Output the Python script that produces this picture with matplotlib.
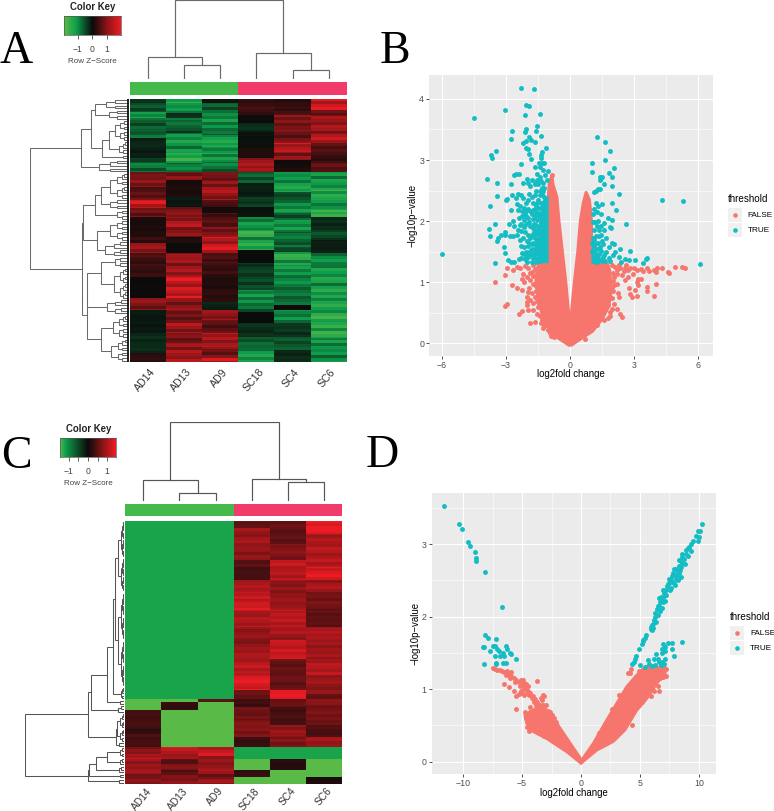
import numpy as np
import matplotlib
matplotlib.use("Agg")
import matplotlib.pyplot as plt
from matplotlib.colors import LinearSegmentedColormap

plt.rcParams['font.family'] = ['Liberation Sans', 'DejaVu Sans']

W, H = 774, 811

samples = ["AD14", "AD13", "AD9", "SC18", "SC4", "SC6"]

# heatmap A: z-score of each run and the row where the run ends (263 rows)
a_vals = [
    [-0.3, -0.6, -1.2, -0.7, -0.8, -0.2, -0.15, -0.5, -0.9, 0.8, 1.1, 0.5, 0.9, 1.7, 0.9, 0.15, 0.2, 0.4, 1.2, 0.5, 0.4, 0.05, 1.1, -0.1, -0.25, 0.3],
    [-1.6, -1.1, -0.3, -0.8, -0.5, -1.2, -1.6, -0.9, 1.1, 0.15, 0.2, -0.1, 1.0, 1.4, 1.1, 0.2, 0.05, 1.3, 1.3, 1.8, 1.1, 0.9, 1.4, 0.9, 1.3],
    [-0.1, -0.7, -1.1, -0.8, -1.3, -1.0, -1.3, -0.9, 0.9, 1.1, 1.3, 0.6, 0.1, 0.6, 1.0, 1.7, 0.6, 0.4, 0.2, 0.3, -0.2, 1.2, 0.7, 1.4, 1.0, 1.6],
    [0.4, 0.5, 0.05, -0.3, -0.05, 0.2, 1.3, -0.7, -0.15, -0.4, -0.05, -1.2, -1.6, -1.4, 0.0, -0.4, -0.5, -1.1, -0.8, 0.0, -0.3, -0.7, -1.2],
    [0.3, 0.5, 1.0, 0.9, 1.6, 1.1, 0.1, 0.3, -1.1, -1.3, -0.5, -1.1, -0.7, -1.2, -0.8, -0.5, -1.5, -1.1, -1.0, -0.8, 0.0, -1.0, -0.35, -0.6, -0.25],
    [1.7, 1.0, 1.3, 1.5, 0.7, 0.45, 0.7, -1.2, -1.5, -1.1, -1.6, -0.25, -0.5, -0.15, -1.0, -1.3, -1.4, -1.55, -1.6, -1.1],
]
a_ends = [
    [4, 13, 19, 34, 39, 51, 59, 64, 73, 78, 88, 93, 101, 109, 118, 128, 138, 144, 154, 166, 178, 199, 211, 234, 254, 263],
    [4, 14, 19, 29, 34, 54, 64, 73, 81, 88, 98, 108, 118, 128, 138, 144, 154, 168, 178, 199, 211, 224, 234, 244, 263],
    [4, 14, 29, 36, 48, 54, 63, 73, 81, 88, 101, 108, 114, 128, 138, 154, 164, 178, 188, 203, 211, 221, 234, 248, 259, 263],
    [8, 16, 24, 33, 48, 59, 73, 84, 98, 108, 118, 131, 138, 151, 164, 178, 191, 204, 213, 224, 238, 249, 263],
    [8, 16, 29, 44, 53, 61, 69, 73, 84, 93, 101, 114, 121, 133, 148, 153, 166, 178, 191, 206, 211, 224, 238, 251, 263],
    [11, 16, 34, 44, 53, 64, 73, 91, 101, 111, 118, 131, 141, 154, 166, 201, 211, 234, 239, 263],
]
# fine banding inside the runs, one factor per 3 rows
a_shade = [1.0, 0.8, 1.05, 0.6, 0.95, 0.75, 1.1, 0.85, 0.55, 1.0, 0.9, 0.7, 1.05, 0.65, 0.95, 1.1, 0.8, 0.6, 1.0, 0.85,
           0.7, 1.05, 0.95, 0.55, 0.9, 1.1, 0.75, 1.0, 0.65, 0.9, 1.05, 0.8, 0.6, 0.95, 1.1, 0.7, 0.85, 1.0, 0.6, 1.05,
           0.9, 0.75, 1.1, 0.65, 0.95, 0.85, 1.0, 0.55, 0.9, 1.05, 0.7, 0.95, 1.1, 0.8, 0.6, 1.0, 0.85, 0.7, 1.05, 0.95,
           0.6, 0.9, 1.1, 0.75, 1.0, 0.65, 0.9, 1.05, 0.8, 0.55, 0.95, 1.1, 0.7, 0.85, 1.0, 0.6, 1.05, 0.9, 0.75, 1.1,
           0.65, 0.95, 0.85, 1.0, 0.7, 0.9, 1.05, 0.8]
c_shade = [1.0, 0.92, 1.05, 0.85, 1.0, 0.95, 1.08, 0.88, 0.8, 1.0, 0.95, 0.85, 1.05, 0.9, 1.0, 1.08, 0.9, 0.82, 1.0, 0.95,
           0.88, 1.05, 1.0, 0.8, 0.95, 1.08, 0.88, 1.0, 0.85, 0.95, 1.05, 0.9, 0.82, 1.0, 1.08, 0.88, 0.92, 1.0, 0.82, 1.05,
           0.95, 0.88, 1.08, 0.85, 1.0, 0.92, 1.0, 0.8, 0.95, 1.05, 0.88, 1.0, 1.08, 0.9, 0.82, 1.0, 0.92, 0.88, 1.05, 1.0,
           0.82, 0.95, 1.08, 0.88, 1.0, 0.85, 0.95, 1.05, 0.9, 0.8, 1.0, 1.08, 0.88, 0.92, 1.0, 0.82, 1.05, 0.95, 0.88, 1.08,
           0.85, 1.0, 0.92, 1.0, 0.88, 0.95, 1.05, 0.9]

# heatmap C, same layout
c_low = -1.2
c_lime = -1.43
c_vals = [
    [c_low, c_lime, 0.4, 0.25, 0.4, 0.8, 1.1, 0.9, 1.0, 0.7, 0.8],
    [c_low, c_lime, 0.3, c_lime, 1.3, 0.9, 0.5, 0.8, 0.5, 0.8],
    [c_low, 0.5, c_lime, 1.25, 0.9, 1.0, 0.7, 0.9],
    [0.6, 0.95, 0.85, 0.5, 0.4, 1.05, 1.2, 1.3, 1.1, 0.85, 1.0, 1.15, 1.45, 0.6, 0.35, 0.65, 0.8, 0.3, c_low, c_lime, 0.3, c_lime],
    [0.6, 0.55, 0.8, 1.15, 0.85, 0.95, 1.15, 1.0, 1.25, 0.6, 1.6, 0.6, 0.4, 0.9, 0.75, c_low, 0.2, c_lime],
    [1.5, 1.1, 1.1, 1.4, 1.0, 0.7, 0.55, 1.05, 0.95, 1.15, 0.9, 0.6, 0.8, 0.7, 0.45, 0.95, c_low, c_lime, c_lime, 0.15],
]
c_ends = [
    [178, 189, 208, 213, 226, 233, 238, 248, 253, 258, 263],
    [178, 181, 189, 226, 233, 238, 243, 249, 254, 263],
    [178, 181, 226, 235, 248, 253, 258, 263],
    [7, 29, 39, 46, 59, 71, 79, 89, 106, 126, 138, 154, 169, 178, 186, 199, 216, 226, 238, 249, 256, 263],
    [7, 23, 39, 59, 76, 89, 106, 119, 138, 169, 178, 186, 204, 216, 226, 238, 249, 263],
    [13, 36, 46, 59, 71, 88, 106, 119, 138, 154, 173, 178, 186, 204, 216, 226, 238, 249, 256, 263],
]

# row dendrograms: (height, child, child), [first row, last row, height] is a tight leaf group
tree_a = (99,
          (48,
           (38, (34, [0, 3, 23], [4, 7, 20]),
            (27, (20, [8, 15, 14], [16, 20, 10]), [21, 22, 6])),
           [23, 27, 30]),
          (46.7,
           (45.7,
            (34.3, (27.7, [28, 37, 19], [38, 41, 19]), [42, 45, 12]),
            (32.3, [46, 53, 19], [54, 59, 24])),
           (41.7,
            (42, (27.7, [60, 63, 14], [64, 75, 15]), [76, 81, 22]),
            (27.7, [82, 90, 16], [91, 99, 18]))))
tree_c = (99,
          (36,
           (33,
            (17,
             (11, (9.6, [0, 26, 6], [27, 62, 6]), [63, 67, 3]),
             [68, 69, 4]),
            [70, 72, 6]),
           (8.6, [73, 83, 7], [84, 85, 5])),
          (36,
           (35,
            (28.6, (17, [86, 89, 4], [90, 92, 4]), [93, 95, 5]),
            [96, 97, 4]),
           [98, 99, 5]))

# column dendrograms, leaves are the column numbers
tree_top_a = (79, (22, 0, (14, 1, 2)), (26, 3, (9.5, 4, 5)))
tree_top_c = (78.5, (20.5, 0, (7.5, 1, 2)), (22, 3, (19, 4, 5)))

# panel B, mass of overlapping points as an outline, then the points that stand apart
b_mass_l_x = [-0.05, -0.6, -0.95, -1.25, -1.4, -1.5, -1.6, -1.55, -1.45, -1.05, -1.05, -1.0, -0.98, -0.85, -0.8, -0.62, -0.52, -0.36, -0.2, -0.04, 0.0]
b_mass_l_y = [-0.03, 0.1, 0.2, 0.4, 0.6, 0.8, 1.0, 1.2, 1.32, 1.34, 2.0, 2.5, 2.6, 2.75, 2.6, 2.4, 2.0, 1.5, 1.0, 0.38, 0.3]
b_mass_r_x = [0.0, 0.02, 0.2, 0.36, 0.48, 0.62, 0.75, 0.9, 0.95, 1.0, 1.0, 1.75, 1.85, 1.9, 1.9, 1.8, 1.5, 1.05, 0.6, 0.05]
b_mass_r_y = [0.3, 0.35, 1.0, 1.5, 2.0, 2.3, 2.47, 2.35, 2.2, 2.0, 1.33, 1.3, 1.2, 1.0, 0.8, 0.6, 0.4, 0.2, 0.1, -0.03]
b_false = [
    (-2.96, 1.23), (-3.04, 1.12), (-3.51, 1.0), (-2.73, 0.96), (-2.95, 0.65), (-3.04, 0.62), (-2.46, 0.9), (-2.26, 0.87),
    (-2.37, 0.49), (-2.26, 0.53), (-1.87, 0.33), (-1.25, 0.26), (-1.64, 0.35), (-1.36, 0.34), (-2.03, 0.63), (-1.87, 0.71),
    (-2.03, 0.76), (-1.79, 0.82), (-1.95, 0.84), (-1.64, 0.76), (-2.26, 1.05), (-2.03, 1.09), (-2.18, 1.14), (-2.49, 1.25),
    (-2.34, 1.23), (-2.1, 1.26), (-1.95, 1.23), (-1.71, 1.28), (-1.79, 1.17), (-1.56, 1.12), (-1.87, 1.04), (-1.71, 0.98),
    (-1.56, 0.93), (-1.95, 0.54), (-1.56, 0.49), (-1.48, 0.6), (-1.71, 0.54), (-2.65, 1.2), (-0.84, 2.75), (-0.93, 2.62),
    (-0.9, 2.56), (-0.93, 2.51), (-2.0, 0.68), (-1.9, 0.9), (-2.15, 1.0), (-1.75, 0.66), (-1.6, 0.85), (-1.5, 1.05),
    (-1.42, 0.45), (-1.55, 0.7), (-1.65, 0.95), (-1.75, 1.1), (-1.85, 1.15), (-1.65, 1.22), (-1.2, 0.3), (-1.05, 0.22),
    (-0.9, 0.12), (-0.75, 0.1), (-0.95, 0.17), (-1.3, 0.38), (-1.45, 0.65), (-1.52, 0.8),
    (2.1, 1.25), (2.34, 1.23), (2.57, 1.24), (2.81, 1.23), (3.12, 1.2), (3.43, 1.19), (2.96, 1.14), (3.19, 1.06),
    (3.58, 1.23), (3.9, 1.2), (4.05, 1.23), (4.29, 1.23), (4.6, 1.17), (4.91, 1.25), (5.22, 1.25), (5.38, 1.23),
    (2.42, 1.12), (2.73, 1.09), (2.57, 1.04), (3.12, 1.01), (3.3, 1.05), (2.77, 0.9), (3.04, 0.87), (3.19, 0.95),
    (3.58, 0.93), (3.58, 0.86), (4.02, 0.97), (2.81, 0.81), (2.91, 0.76), (3.15, 0.77), (3.9, 0.77), (2.23, 0.82),
    (2.28, 0.76), (2.06, 0.95), (2.21, 0.98), (1.95, 0.93), (2.03, 0.65), (2.21, 0.57), (2.31, 0.49), (2.42, 0.43),
    (1.87, 0.52), (1.95, 0.57), (1.4, 0.4), (1.09, 0.35), (0.7, 0.08), (1.79, 0.63), (1.71, 0.71), (2.03, 1.09),
    (2.18, 1.14), (2.2, 1.2), (2.5, 1.18), (2.7, 1.2), (3.0, 1.23), (3.3, 1.22), (3.7, 1.18), (1.95, 1.28), (2.0, 1.16),
    (4.62, 1.15), (4.0, 1.17), (1.98, 0.75), (1.85, 0.45), (1.6, 0.38), (1.75, 0.42), (1.55, 0.5), (1.25, 0.3), (1.0, 0.25),
    (2.0, 0.85), (2.0, 1.02), (2.3, 1.28), (2.6, 1.28),
]
b_band_x = [-1.05, -1.05, -1.3, -1.45, -1.5]
b_band_y = [1.33, 2.4, 2.3, 1.8, 1.33]
b_true = [
    (-5.97, 1.46), (-4.5, 3.68), (-2.29, 4.17), (-1.7, 4.16), (-3.05, 3.81), (-2.06, 3.9), (-1.92, 3.88), (-2.12, 3.74),
    (-1.39, 3.76), (-1.56, 3.56), (-2.73, 3.47), (-2.74, 3.34), (-2.07, 3.51), (-2.12, 3.45), (-1.59, 3.47), (-1.34, 3.39),
    (-1.9, 3.37), (-1.84, 3.32), (-2.18, 3.28), (-2.07, 3.31), (-1.64, 3.3), (-1.11, 3.19), (-2.07, 3.19), (-1.98, 3.18),
    (-3.44, 3.15), (-3.69, 3.08), (-3.66, 3.04), (-1.29, 3.13), (-1.36, 3.08), (-1.9, 3.1), (-1.82, 3.01), (-1.37, 3.04),
    (-2.29, 2.94), (-1.46, 2.95), (-1.32, 2.95), (-1.2, 2.95), (-1.64, 2.89), (-1.4, 2.88), (-1.04, 2.82), (-1.25, 2.83),
    (-2.62, 2.76), (-2.52, 2.77), (-2.41, 2.77), (-3.9, 2.69), (-1.53, 2.77), (-1.17, 2.75), (-2.03, 2.69), (-1.76, 2.68),
    (-1.95, 2.62), (-2.2, 2.63), (-3.4, 2.62), (-2.77, 2.6), (-1.1, 2.68), (-1.4, 2.72), (-1.64, 2.63), (-1.25, 2.62),
    (-1.62, 2.6), (-1.85, 2.58), (-1.3, 2.55), (-2.45, 2.45), (-2.7, 2.42), (-2.95, 2.36), (-3.0, 2.34), (-2.55, 2.38),
    (-2.3, 2.42), (-2.2, 2.38), (-1.95, 2.35), (-2.05, 2.3), (-3.72, 2.24), (-3.4, 2.41), (-2.35, 2.25), (-2.15, 2.22),
    (-1.6, 2.5), (-1.65, 2.42), (-1.55, 2.3), (-1.75, 2.3), (-1.4, 2.42), (-1.25, 2.5), (-1.2, 2.4), (-1.5, 2.35),
    (-2.5, 2.28), (-2.75, 2.18), (-2.45, 2.18), (-2.25, 2.16), (-2.1, 2.13), (-1.95, 2.2), (-1.8, 2.12), (-1.65, 2.2),
    (-1.5, 2.14), (-2.25, 2.08), (-2.15, 2.02), (-2.4, 2.05), (-2.65, 2.0), (-2.85, 1.95), (-1.95, 2.05), (-1.75, 2.03),
    (-1.55, 2.02), (-1.45, 2.08), (-3.5, 1.96), (-2.6, 1.92), (-2.35, 1.93), (-2.05, 1.95), (-1.85, 1.92), (-1.6, 1.93),
    (-1.45, 1.9), (-3.78, 1.87), (-3.73, 1.76), (-3.25, 1.78), (-3.05, 1.82), (-3.02, 1.78), (-2.45, 1.85), (-2.3, 1.84),
    (-2.5, 1.78), (-2.65, 1.76), (-2.8, 1.75), (-2.1, 1.82), (-1.95, 1.78), (-1.7, 1.82), (-1.55, 1.8), (-3.35, 1.72),
    (-3.4, 1.67), (-2.35, 1.7), (-2.2, 1.72), (-2.0, 1.68), (-1.85, 1.72), (-1.65, 1.72), (-1.5, 1.68), (-3.08, 1.58),
    (-3.05, 1.48), (-2.3, 1.6), (-2.15, 1.58), (-1.95, 1.6), (-1.8, 1.62), (-1.6, 1.6), (-1.45, 1.58), (-2.25, 1.48),
    (-2.05, 1.5), (-1.85, 1.52), (-1.65, 1.5), (-1.5, 1.48), (-2.9, 1.36), (-2.75, 1.33), (-2.6, 1.34), (-2.4, 1.38),
    (-2.3, 1.4), (-2.1, 1.38), (-1.95, 1.42), (-1.75, 1.4), (-1.55, 1.38), (-3.52, 1.32), (-2.0, 1.33), (-1.8, 1.34),
    (-1.6, 1.33), (-1.4, 1.35), (-1.9, 1.45), (-1.7, 1.44), (-1.55, 1.7), (-1.45, 2.22), (-1.38, 2.3),
    (-1.7, 1.95), (-1.9, 1.98), (-1.65, 2.08), (-1.85, 2.16), (-2.05, 2.08), (-1.6, 1.85), (-1.75, 1.88), (-1.8, 1.78),
    (-1.62, 1.78), (-1.58, 1.65), (-1.72, 1.65), (-1.9, 1.65), (-1.78, 1.55), (-1.6, 1.55), (-1.68, 1.42), (-1.82, 1.46),
    (-2.0, 1.42), (-2.12, 1.44), (-1.58, 2.15), (-1.72, 2.18), (-1.6, 2.25), (-1.42, 2.5), (-1.3, 2.45), (-1.48, 2.6),
    (-1.55, 2.68), (-1.2, 2.55), (-1.35, 2.65), (-1.8, 2.4), (-1.9, 2.45), (-2.0, 2.18), (-2.3, 1.95), (-2.15, 1.9),
    (6.07, 1.3), (5.27, 2.33), (4.3, 2.34), (1.26, 3.38), (1.63, 3.29), (1.88, 3.15), (1.63, 3.0), (1.03, 2.95),
    (2.06, 2.87), (1.02, 2.81), (1.81, 2.78), (1.94, 2.73), (1.42, 2.73), (1.38, 2.68), (1.48, 2.72), (1.6, 2.6),
    (1.96, 2.57), (1.2, 2.5), (1.3, 2.52), (1.4, 2.53), (1.1, 2.47), (2.29, 2.45), (1.95, 2.3), (1.3, 2.25), (1.5, 2.28),
    (1.2, 2.3), (2.15, 2.19), (1.1, 2.2), (1.25, 2.15), (1.05, 2.12), (1.45, 2.12), (1.75, 2.05), (1.3, 2.0), (1.15, 1.98),
    (1.05, 1.98), (1.6, 1.97), (1.95, 2.02), (2.6, 1.96), (1.45, 1.92), (1.25, 1.92), (1.85, 1.9), (1.93, 1.88), (1.1, 1.85),
    (1.35, 1.85), (1.6, 1.85), (1.2, 1.75), (1.45, 1.78), (1.05, 1.72), (1.7, 1.72), (1.95, 1.65), (2.05, 1.63), (1.3, 1.65),
    (1.15, 1.62), (1.55, 1.62), (1.8, 1.58), (1.05, 1.55), (1.25, 1.55), (2.1, 1.5), (2.35, 1.55), (2.8, 1.52), (1.45, 1.52),
    (1.7, 1.5), (2.0, 1.45), (1.15, 1.48), (1.35, 1.46), (1.05, 1.42), (1.55, 1.42), (1.8, 1.4), (2.3, 1.42), (2.55, 1.38),
    (1.2, 1.38), (1.4, 1.36), (1.05, 1.35), (1.65, 1.35), (1.85, 1.35), (2.4, 1.33), (3.05, 1.37), (3.55, 1.38), (3.4, 1.32),
    (3.6, 1.39), (2.75, 1.36), (1.1, 1.6), (1.2, 1.33), (1.1, 1.7), (1.25, 1.45), (1.3, 1.4), (1.12, 1.42), (1.02, 1.5),
    (1.02, 1.65), (1.4, 1.58), (1.5, 1.68), (1.35, 1.75), (1.15, 1.35), (1.28, 1.34), (1.5, 1.35), (1.6, 1.45),
]

# panel D
d_mass_l_x = [0.0, -1.22, -2.91, -4.33, -4.6, -4.75, -3.95, -3.4, -2.63, -1.78, -0.08]
d_mass_l_y = [-0.02, 0.14, 0.32, 0.44, 0.53, 0.64, 0.72, 0.78, 0.67, 0.46, 0.05]
d_mass_r_x = [0.0, 1.33, 2.74, 3.73, 4.72, 5.57, 6.42, 7.13, 7.2, 5.57, 4.72, 3.88, 3.03, 2.18, 1.05, 0.06]
d_mass_r_y = [-0.02, 0.16, 0.28, 0.44, 0.71, 0.87, 1.08, 1.22, 1.29, 1.31, 1.19, 1.03, 0.8, 0.57, 0.25, 0.02]
d_false = [
    (-7.5, 1.29), (-7.3, 1.28), (-7.1, 1.27), (-6.9, 1.26), (-6.7, 1.25), (-6.5, 1.24), (-6.3, 1.22), (-6.1, 1.2), (-5.9, 1.18),
    (-5.7, 1.16), (-5.5, 1.13), (-5.3, 1.1), (-5.1, 1.08), (-4.9, 1.04), (-4.7, 1.02), (-4.5, 0.98), (-4.3, 0.94), (-4.1, 0.91),
    (-3.9, 0.87), (-3.7, 0.82), (-3.5, 0.78), (-3.3, 0.74), (-3.1, 0.7), (-6.4, 1.2), (-6.0, 1.15), (-5.6, 1.1), (-5.2, 1.05),
    (-4.8, 1.0), (-4.4, 0.92), (-4.0, 0.85), (-3.6, 0.76), (-6.3, 1.25), (-5.9, 1.24), (-5.1, 1.13), (-4.95, 1.12), (-4.8, 1.08),
    (-6.5, 1.07), (-6.1, 1.03), (-5.7, 0.98), (-5.55, 0.9), (-5.25, 0.93), (-5.55, 0.72), (-3.75, 1.11), (-3.25, 0.92), (-3.15, 0.9),
    (-3.3, 0.85), (-4.75, 0.68), (-4.6, 0.62), (-4.3, 0.76), (-4.0, 0.7), (-3.8, 0.78), (-3.2, 0.78), (-2.6, 0.68), (-2.45, 0.64),
    (-2.9, 0.63), (-4.7, 0.6), (-3.5, 0.68), (-5.0, 0.95), (-4.7, 1.07), (-4.5, 1.05), (-5.05, 0.98), (-4.85, 0.92), (-4.6, 0.94),
    (-4.2, 0.88), (-3.95, 0.82), (-3.75, 0.72), (-4.35, 0.68), (-4.15, 0.62), (-4.55, 0.48), (-4.4, 0.42), (-3.4, 0.88), (-3.0, 0.78),
    (-2.8, 0.7), (-2.3, 0.6), (-2.15, 0.55), (-3.6, 0.4), (-3.1, 0.36),
    (4.0, 1.22), (4.2, 1.28), (4.15, 1.22), (4.35, 1.1), (3.2, 0.92), (4.35, 0.5), (7.2, 1.18), (7.25, 1.28), (7.0, 1.3),
    (6.9, 1.22), (6.7, 1.15), (5.3, 1.28), (5.1, 1.25), (4.9, 1.25), (6.2, 1.3), (5.9, 1.3), (5.5, 0.92), (5.2, 0.82), (6.2, 0.98),
    (6.0, 1.0), (5.9, 0.9), (6.5, 1.05), (6.3, 1.1), (7.0, 1.17), (3.8, 0.62), (4.1, 0.68), (4.5, 0.75), (4.9, 0.78), (3.3, 0.58),
    (2.9, 0.42), (3.5, 0.92), (3.9, 1.0), (2.0, 0.52), (2.6, 0.72), (1.5, 0.4), (6.6, 0.98), (5.9, 1.26), (6.5, 1.28),
]
d_true = [
    (-11.6, 3.52), (-10.38, 3.27), (-10.1, 3.21), (-9.59, 3.03), (-9.39, 2.97), (-8.97, 2.89), (-8.94, 2.81), (-8.91, 2.77),
    (-8.15, 2.61), (-6.73, 2.13), (-8.18, 1.74), (-7.86, 1.71), (-7.21, 1.69), (-8.32, 1.58), (-8.25, 1.58), (-7.44, 1.6),
    (-7.3, 1.6), (-6.39, 1.59), (-6.31, 1.56), (-7.1, 1.55), (-6.99, 1.52), (-7.72, 1.52), (-6.62, 1.5), (-6.03, 1.5),
    (-5.91, 1.48), (-7.3, 1.46), (-6.87, 1.46), (-6.53, 1.46), (-5.54, 1.41), (-7.24, 1.36), (-7.19, 1.35), (-6.62, 1.36),
    (-6.36, 1.36), (-8.26, 1.35),
    (4.36, 1.35), (4.5, 1.38), (4.6, 1.42), (4.7, 1.45), (4.92, 1.55), (5.25, 1.66), (5.29, 1.68), (5.4, 1.7), (5.5, 1.74),
    (5.15, 1.62), (5.9, 1.83), (5.95, 1.86), (6.05, 1.82), (6.15, 1.84), (6.1, 1.9), (6.2, 1.96), (6.25, 2.0), (6.35, 1.93),
    (6.4, 2.04), (6.45, 2.1), (6.55, 2.02), (6.6, 2.15), (6.7, 2.2), (6.85, 2.22), (6.9, 2.12), (6.8, 2.27), (7.0, 2.27), (7.05, 2.33),
    (7.15, 2.3), (7.2, 2.36), (7.3, 2.42), (7.45, 2.46), (7.55, 2.36), (7.65, 2.4), (7.6, 2.5), (7.7, 2.56), (7.8, 2.6), (7.85, 2.46),
    (7.95, 2.44), (8.0, 2.58), (8.05, 2.52), (8.1, 2.65), (8.15, 2.56), (8.2, 2.62), (8.25, 2.5), (8.3, 2.7), (8.35, 2.6), (8.4, 2.64),
    (8.45, 2.76), (8.5, 2.68), (8.55, 2.82), (8.6, 2.74), (8.7, 2.8), (8.8, 2.72), (8.9, 2.92), (8.95, 2.86), (9.05, 2.83), (9.1, 2.94),
    (9.2, 2.96), (9.3, 2.9), (9.35, 3.0), (9.5, 3.04), (9.9, 3.04), (9.75, 3.11), (10.05, 3.1), (9.95, 3.18), (10.1, 3.18), (10.3, 3.27),
    (8.5, 2.55), (7.4, 2.45), (7.0, 2.2), (6.7, 2.08), (6.65, 2.25), (6.95, 2.36), (7.1, 2.22), (7.5, 2.52), (7.9, 2.66), (8.3, 2.78),
    (8.6, 2.86), (7.75, 2.48), (7.25, 2.3), (6.5, 2.14), (6.3, 2.05), (6.0, 1.88),
    (8.6, 1.65), (7.75, 1.63), (7.35, 1.63), (7.0, 1.62), (7.7, 1.55), (7.92, 1.45), (7.1, 1.58), (6.9, 1.55), (6.85, 1.5), (7.15, 1.52),
    (6.4, 1.48), (6.5, 1.42), (6.2, 1.42), (5.7, 1.4), (5.8, 1.35), (6.6, 1.38), (6.9, 1.38), (7.1, 1.42), (7.05, 1.35), (6.75, 1.33),
    (5.4, 1.31), (5.0, 1.33), (6.0, 1.32), (6.3, 1.33),
]


def pix_axes(left, top, right, bottom):
    return fig.add_axes([left / W, 1 - bottom / H, (right - left) / W, (bottom - top) / H])


def fan(ax, a, b, h, color, lw):
    if a >= b:
        return a + 0.5, 0
    m = (a + b) // 2
    y1, h1 = fan(ax, a, m, h * 0.62, color, lw)
    y2, h2 = fan(ax, m + 1, b, h * 0.62, color, lw)
    ax.plot([h1, h, h, h2], [y1, y1, y2, y2], color=color, lw=lw, solid_joinstyle='miter')
    return (y1 + y2) / 2, h


def row_tree(ax, node, color, lw):
    if isinstance(node, list):
        return fan(ax, node[0], node[1], node[2], color, lw)
    y1, h1 = row_tree(ax, node[1], color, lw)
    y2, h2 = row_tree(ax, node[2], color, lw)
    ax.plot([h1, node[0], node[0], h2], [y1, y1, y2, y2], color=color, lw=lw, solid_joinstyle='miter')
    return (y1 + y2) / 2, node[0]


def col_tree(ax, node, color, lw):
    if not isinstance(node, tuple):
        return node, 0
    x1, h1 = col_tree(ax, node[1], color, lw)
    x2, h2 = col_tree(ax, node[2], color, lw)
    ax.plot([x1, x1, x2, x2], [h1, node[0], node[0], h2], color=color, lw=lw, solid_joinstyle='miter')
    return (x1 + x2) / 2, node[0]


def heat_panel(vals, ends, shade, floor, box, cmap, vmin, vmax, tree, top_tree, strip, top_box, key_box, key_lim, key_ticks, line_color, row_left, fringe):
    left, top, right, bottom = box
    rows = np.column_stack([np.repeat(v, np.diff([0] + e)) for v, e in zip(vals, ends)])
    # the banding of each column starts somewhere else in the list
    bands = np.repeat(shade, 3)[:263]
    for j in range(6):
        f = np.roll(bands, j * 23)
        rows[:, j] = np.where(rows[:, j] > floor, rows[:, j] * f, rows[:, j])

    ax = pix_axes(left, top, right, bottom)
    ax.pcolormesh(np.arange(7), np.arange(264), rows, cmap=cmap, vmin=vmin, vmax=vmax, rasterized=True)
    ax.set_ylim(263, 0)
    ax.axis('off')

    # side colour strip
    ax = pix_axes(left, strip[0], right, strip[1])
    ax.barh(0, 3, left=0, height=1, color='#45BA4A')
    ax.barh(0, 3, left=3, height=1, color='#F03B6B')
    ax.set_xlim(0, 6)
    ax.set_ylim(-0.5, 0.5)
    ax.axis('off')

    # dendrograms
    ax = pix_axes(row_left, top, left - 1, bottom)
    row_tree(ax, tree, line_color, 0.75)
    if fringe:
        ax.plot([0.8, 0.8], [0, 100], color='#111111', lw=1.3)
    ax.set_xlim(left - 1 - row_left, 0)
    ax.set_ylim(100, 0)
    ax.axis('off')

    ax = pix_axes(left, top_box[0], right, top_box[1])
    col_tree(ax, top_tree, line_color, 0.85)
    ax.set_xlim(-0.5, 5.5)
    ax.set_ylim(0, top_box[1] - top_box[0])
    ax.axis('off')

    # colour key
    ax = pix_axes(*key_box)
    ax.imshow(np.linspace(key_lim[0], key_lim[1], 200)[None, :], aspect='auto', cmap=cmap,
              vmin=key_lim[0], vmax=key_lim[1], extent=[key_lim[0], key_lim[1], 0, 1])
    ax.set_yticks([])
    ax.set_xticks(key_ticks)
    ax.set_xticklabels([str(t).replace('-', '\u2212') if t == int(t) else '' for t in key_ticks], fontsize=6.2, color='#444444')
    ax.tick_params(axis='x', length=3, width=0.6, color='#444444', pad=4.5)
    for s in ax.spines.values():
        s.set_linewidth(0.5)
        s.set_color('#555555')
    cx = (key_box[0] + key_box[2]) / 2
    page.text(cx, key_box[1] - 8.5, 'Color Key', ha='center', va='center', fontsize=6.9, fontweight='bold', color='#222222')
    page.text(cx, key_box[3] + 26.5, 'Row Z\u2212Score', ha='center', va='center', fontsize=5.8, color='#444444')


def volcano(box, xlim, ylim, xticks, xminor, yticks, yminor, masses, false_pts, true_pts, band, legend_x, legend_y, xlabel_y, ylabel_x):
    ax = pix_axes(*box)
    ax.set_facecolor('#EBEBEB')
    ax.set_axisbelow(True)
    ax.set_xticks(xticks)
    ax.set_yticks(yticks)
    ax.set_xticks(xminor, minor=True)
    ax.set_yticks(yminor, minor=True)
    ax.set_xticklabels([str(t).replace('-', '\u2212') for t in xticks])
    ax.grid(which='major', color='white', lw=0.8)
    ax.grid(which='minor', color='white', lw=0.4)
    ax.tick_params(which='major', length=2.2, width=0.6, color='#333333', labelcolor='#4D4D4D', labelsize=6.3, pad=1.5)
    ax.tick_params(which='minor', length=0)
    for s in ax.spines.values():
        s.set_visible(False)
    for mx, my in masses:
        ax.fill(mx, my, color='#F6766D', lw=2.2, joinstyle='round', zorder=2)
    fx, fy = zip(*false_pts)
    ax.scatter(fx, fy, s=12.5, color='#F6766D', linewidths=0, zorder=2)
    if band is not None:
        ax.fill(band[0], band[1], color='#14BDC4', lw=1.5, zorder=3)
    tx, ty = zip(*true_pts)
    ax.scatter(tx, ty, s=12.5, color='#14BDC4', linewidths=0, zorder=3)
    ax.set_xlim(*xlim)
    ax.set_ylim(*ylim)

    page.text((box[0] + box[2]) / 2, xlabel_y, 'log2fold change', ha='center', va='center', fontsize=6.9, color='black')
    page.text(ylabel_x, (box[1] + box[3]) / 2, '\u2212log10p\u2212value', ha='center', va='center', rotation=90, fontsize=6.9, color='black')

    page.text(legend_x, legend_y, 'threshold', ha='left', va='center', fontsize=7.1, color='black')
    for i, (lab, col) in enumerate(zip(['FALSE', 'TRUE'], ['#F6766D', '#14BDC4'])):
        yk = legend_y + 9.5 + 15 * i
        page.fill([legend_x, legend_x + 14, legend_x + 14, legend_x], [yk, yk, yk + 14, yk + 14], color='#F0F0F0', lw=0)
        page.scatter([legend_x + 7], [yk + 7], s=11, color=col, linewidths=0)
        page.text(legend_x + 20, yk + 7, lab, ha='left', va='center', fontsize=5.9, color='black')


fig = plt.figure(figsize=(W / 100, H / 100), dpi=100, facecolor='white')

# page-wide layer for free text, in pixels
page = fig.add_axes([0, 0, 1, 1], zorder=5)
page.set_xlim(0, W)
page.set_ylim(H, 0)
page.axis('off')

cmap_a = LinearSegmentedColormap.from_list('key_a', [(0, '#5ABA47'), (0.21, '#0E9F4C'), (0.5, '#0A0A0A'), (0.76, '#8F1518'), (1, '#ED1C24')])
cmap_c = LinearSegmentedColormap.from_list('key_c', [(0, '#5ABA47'), (0.09, '#0FA04B'), (0.5, '#0A0A0A'), (0.78, '#8F1518'), (1, '#ED1C24')])

heat_panel(a_vals, a_ends, a_shade, -9, (130, 99, 346.7, 362), cmap_a, -1.91, 1.94, tree_a, tree_top_a, (81.7, 94.7), (0, 79),
           (64.3, 15.7, 120.7, 34.7), (-1.91, 1.94), [-1, 0, 1], '#6A6A6A', 30, True)
heat_panel(c_vals, c_ends, c_shade, c_low, (125.3, 520.7, 342, 784), cmap_c, -1.43, 1.47, tree_c, tree_top_c, (503.7, 516.3), (422.3, 500.8),
           (60.3, 437.7, 116.3, 456.7), (-1.43, 1.47), [-1, -0.5, 0, 0.5, 1], '#555555', 25, False)

for lx, name in zip([150, 186, 222, 258, 294, 330], samples):
    page.text(lx, 367, name, rotation=50, rotation_mode='anchor', ha='right', va='top', fontsize=7.6, color='#333333')
for lx, name in zip([146, 182, 218, 254, 290, 326], samples):
    page.text(lx, 786, name, rotation=50, rotation_mode='anchor', ha='right', va='top', fontsize=7.4, color='#333333')

volcano((429.3, 75, 713, 355.7), (-6.58, 6.68), (-0.2, 4.39), [-6, -3, 0, 3, 6], [-4.5, -1.5, 1.5, 4.5],
        [0, 1, 2, 3, 4], [0.5, 1.5, 2.5, 3.5],
        [(b_mass_l_x, b_mass_l_y), (b_mass_r_x, b_mass_r_y)], b_false, b_true, (b_band_x, b_band_y), 727.7, 198.7, 374, 413)
volcano((431.7, 493.3, 715.7, 774), (-12.67, 11.43), (-0.17, 3.70), [-10, -5, 0, 5, 10], [-7.5, -2.5, 2.5, 7.5],
        [0, 1, 2, 3], [0.5, 1.5, 2.5, 3.5],
        [(d_mass_l_x, d_mass_l_y), (d_mass_r_x, d_mass_r_y)], d_false, d_true, None, 730, 616.7, 792.5, 416)
page.set_xlim(0, W)
page.set_ylim(H, 0)

for letter, lx, ly in [('A', 0, 63), ('B', 380, 63), ('C', 1, 468), ('D', 366, 467)]:
    page.text(lx, ly, letter, ha='left', va='baseline', fontsize=33, family=['Liberation Serif'], color='black')

fig.savefig('out.png', dpi=100)
